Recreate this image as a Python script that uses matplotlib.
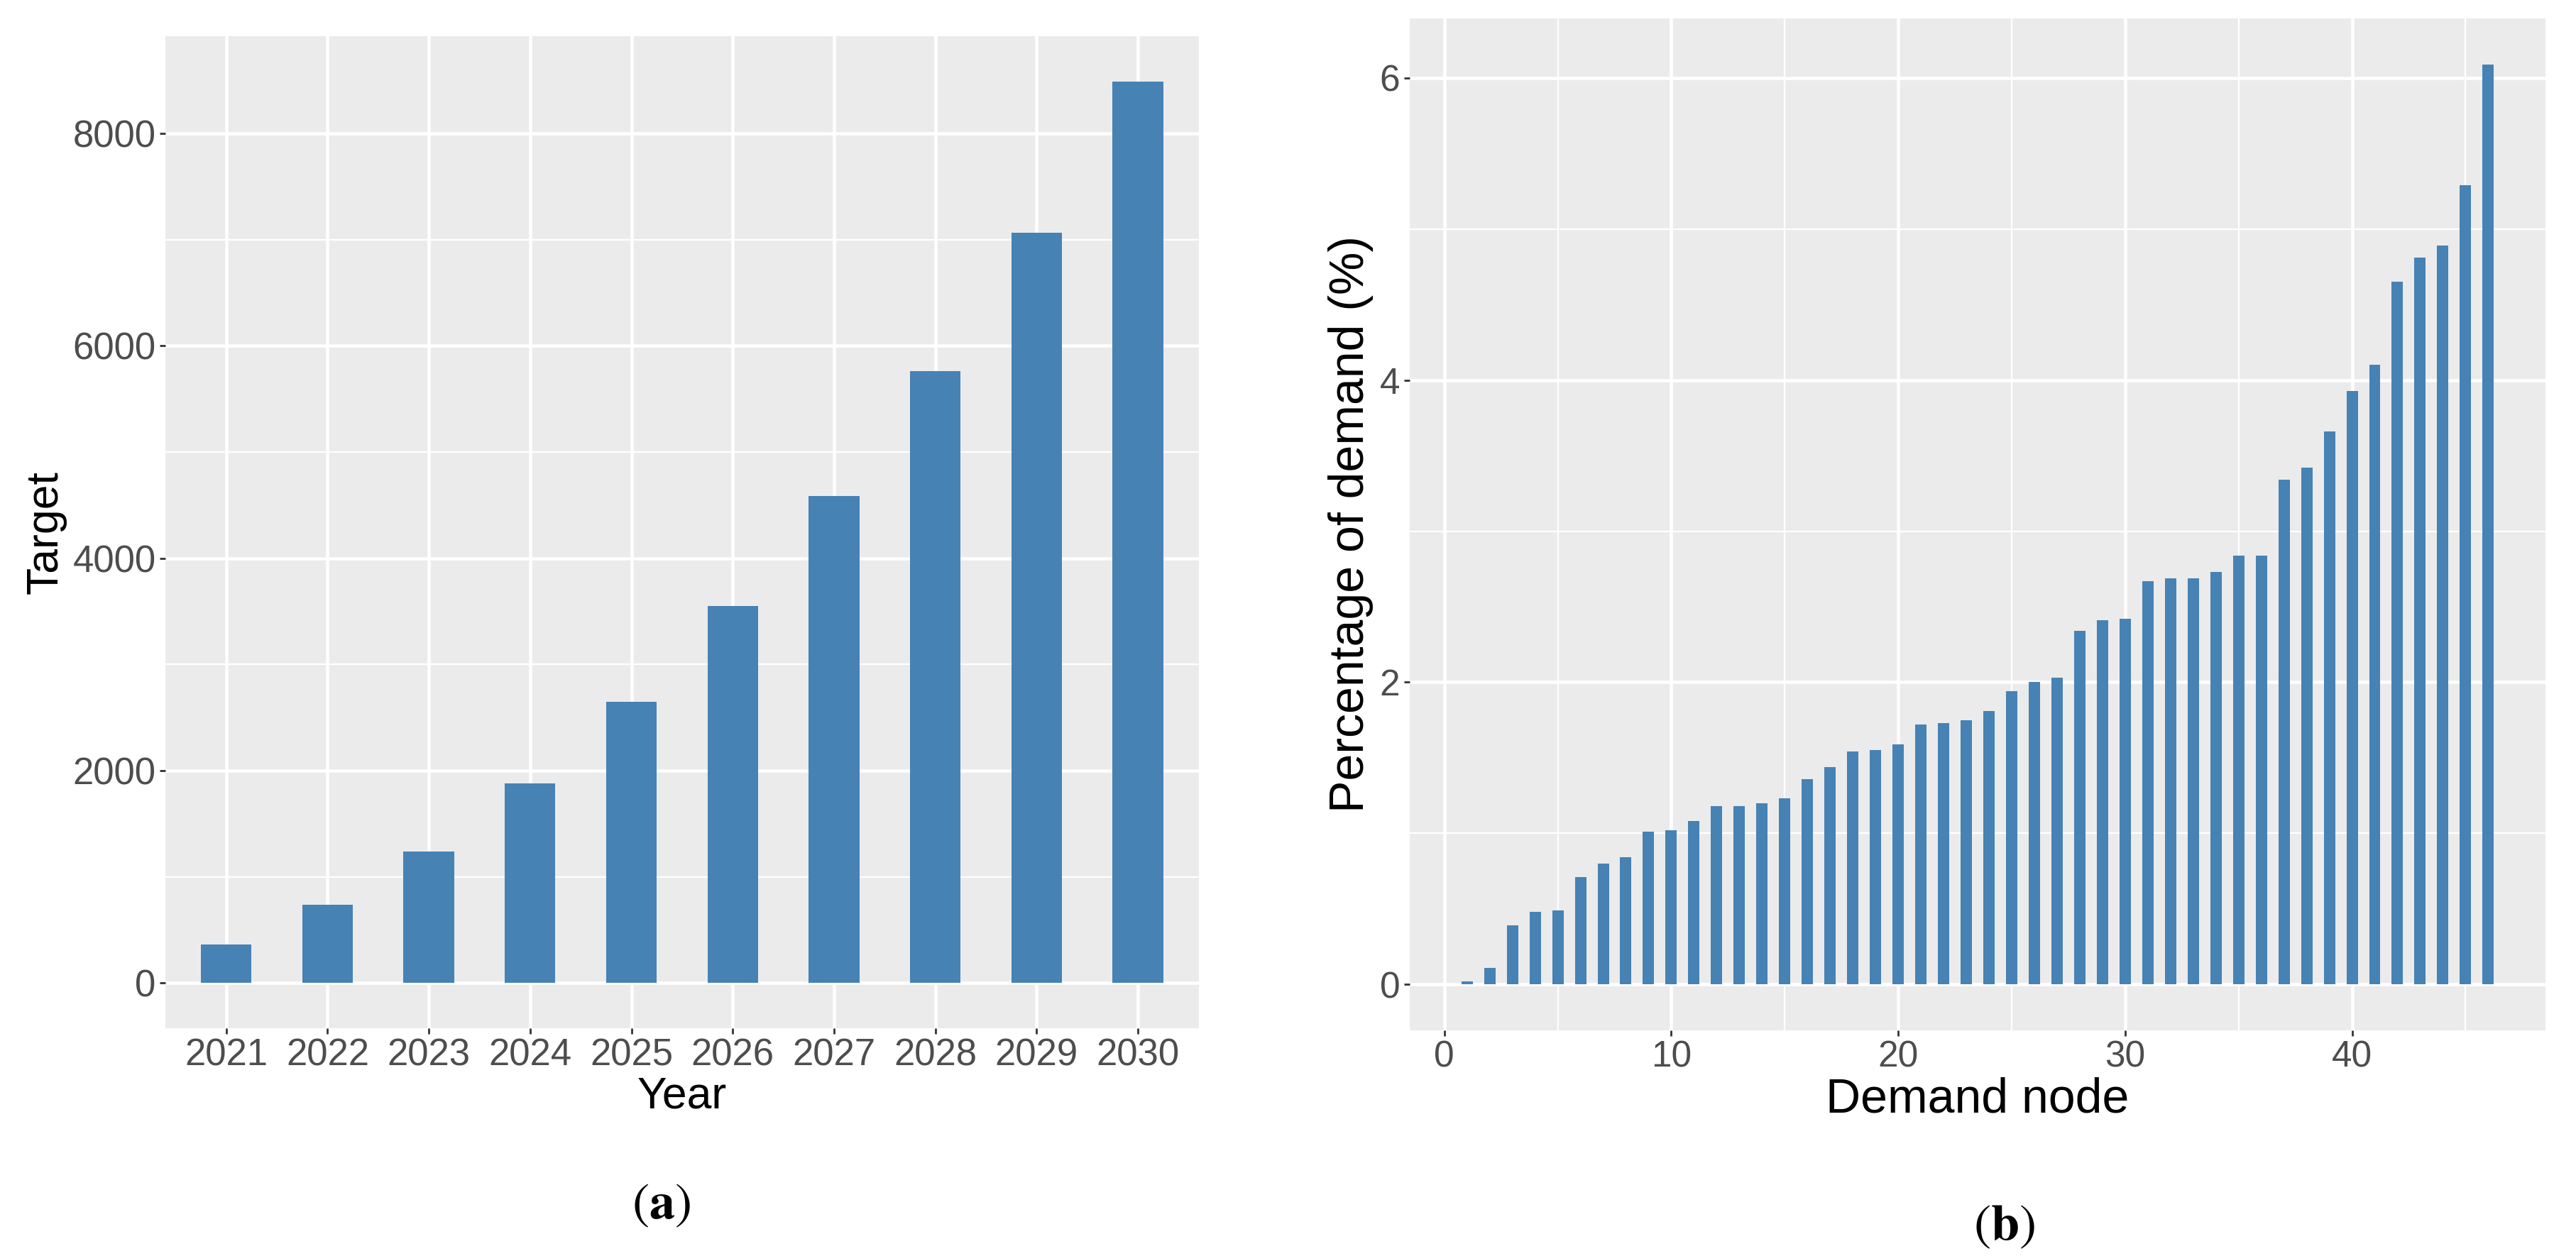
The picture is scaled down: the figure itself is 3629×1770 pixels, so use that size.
import numpy as np
import matplotlib
matplotlib.use("Agg")
import matplotlib.pyplot as plt
from matplotlib.ticker import MultipleLocator

plt.rcParams['font.family'] = ['Liberation Sans', 'DejaVu Sans']
plt.rcParams['mathtext.fontset'] = 'stix'

# panel (a): yearly target
years = ['2021', '2022', '2023', '2024', '2025', '2026', '2027', '2028', '2029', '2030']
target = [362, 739, 1237, 1878, 2647, 3552, 4585, 5762, 7066, 8492]

# panel (b): percentage of demand per demand node
nodes = list(range(1, 47))
demand_pct = [0.02, 0.11, 0.39, 0.48, 0.49, 0.71, 0.80, 0.84, 1.01, 1.02,
              1.08, 1.18, 1.18, 1.20, 1.23, 1.36, 1.44, 1.54, 1.55, 1.59,
              1.72, 1.73, 1.75, 1.81, 1.94, 2.00, 2.03, 2.34, 2.41, 2.42,
              2.67, 2.69, 2.69, 2.73, 2.84, 2.84, 3.34, 3.42, 3.66, 3.93,
              4.10, 4.65, 4.81, 4.89, 5.29, 6.09]

BAR = '#4682B4'
BG = '#EBEBEB'
TICKC = '#4D4D4D'

fig = plt.figure(figsize=(36.3, 17.7), dpi=100)
ax1 = fig.add_axes([0.0642, 0.1814, 0.401, 0.7898])
ax2 = fig.add_axes([0.5471, 0.1797, 0.4408, 0.8056])


def gg_style(ax, tick_fs):
    ax.set_facecolor(BG)
    for s in ax.spines.values():
        s.set_visible(False)
    ax.set_axisbelow(True)
    ax.grid(which='major', color='white', linewidth=3.3)
    ax.grid(which='minor', color='white', linewidth=1.6)
    ax.tick_params(which='major', length=5.8, width=2.0, color='#333333',
                   labelsize=tick_fs, labelcolor=TICKC, pad=4)
    ax.tick_params(which='minor', length=0)


# (a)
x1 = np.arange(len(years))
ax1.bar(x1, target, width=0.5, color=BAR, zorder=2)
ax1.set_xticks(x1)
ax1.set_xticklabels(years)
ax1.set_xlim(-0.6, len(years) - 0.4)
ax1.set_ylim(-0.05 * max(target), 1.05 * max(target))
ax1.yaxis.set_major_locator(MultipleLocator(2000))
ax1.yaxis.set_minor_locator(MultipleLocator(1000))
gg_style(ax1, 38)
ax1.set_xlabel('Year', fontsize=45, labelpad=2)
ax1.set_ylabel('Target', fontsize=45, labelpad=6)

# (b)
ax2.bar(nodes, demand_pct, width=0.5, color=BAR, zorder=2)
rng = max(nodes) - min(nodes) + 0.5
ax2.set_xlim(min(nodes) - 0.25 - 0.05 * rng, max(nodes) + 0.25 + 0.05 * rng)
ax2.set_ylim(-0.05 * max(demand_pct), 1.05 * max(demand_pct))
ax2.xaxis.set_major_locator(MultipleLocator(10))
ax2.xaxis.set_minor_locator(MultipleLocator(5))
ax2.yaxis.set_major_locator(MultipleLocator(2))
ax2.yaxis.set_minor_locator(MultipleLocator(1))
gg_style(ax2, 37)
ax2.set_xlabel('Demand node', fontsize=49, labelpad=2)
ax2.set_ylabel('Percentage of demand (%)', fontsize=49, labelpad=6)

# sub-figure captions
fig.text(931 / 3630, 1 - 1699 / 1770, r'$(\mathbf{a})$', fontsize=52,
         ha='center', va='center')
fig.text(2823 / 3630, 1 - 1729 / 1770, r'$(\mathbf{b})$', fontsize=52,
         ha='center', va='center')

fig.savefig('out.png', dpi=100, facecolor='white')
